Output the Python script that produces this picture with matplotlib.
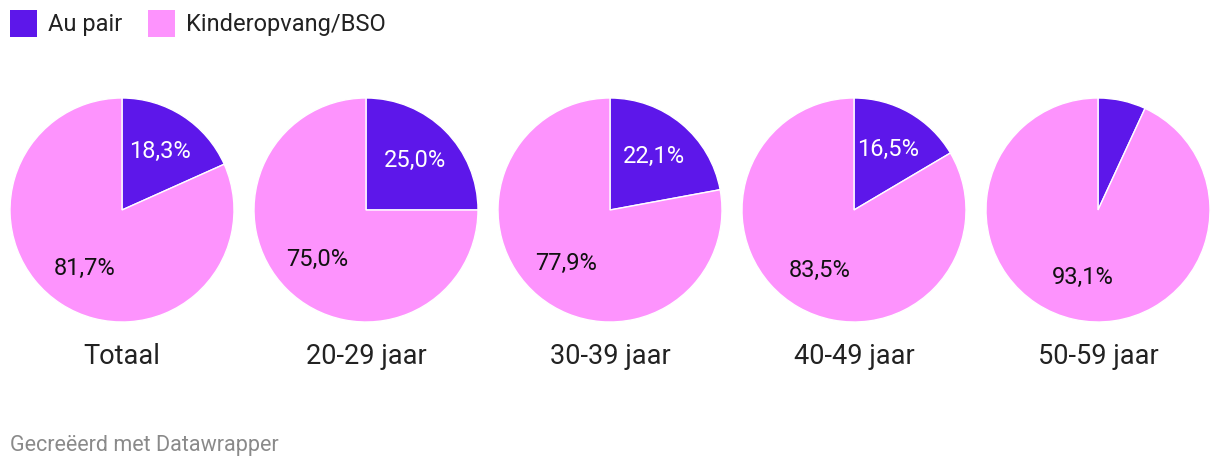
import matplotlib
matplotlib.use("Agg")
import matplotlib.pyplot as plt
from matplotlib.patches import Rectangle

plt.rcParams['font.family'] = ['Roboto', 'DejaVu Sans']

categories = ["Totaal", "20-29 jaar", "30-39 jaar", "40-49 jaar", "50-59 jaar"]
au_pair = [18.3, 25.0, 22.1, 16.5, 6.9]
kinderopvang = [81.7, 75.0, 77.9, 83.5, 93.1]
series_names = ["Au pair", "Kinderopvang/BSO"]
colors = ["#5D17EA", "#FD93FD"]

W, H = 1220, 470
fig = plt.figure(figsize=(W / 100, H / 100), dpi=100)

R = 112
cx0, dx, cy = 122, 244, 210

def fmt(p):
    return f"{p:.1f}".replace(".", ",") + "%"

for i, cat in enumerate(categories):
    cx = cx0 + dx * i
    ax = fig.add_axes([(cx - R) / W, (H - cy - R) / H, 2 * R / W, 2 * R / H])
    vals = [au_pair[i], kinderopvang[i]]
    wedges, texts, autotexts = ax.pie(
        vals, colors=colors, startangle=90, counterclock=False,
        autopct=fmt, pctdistance=0.62,
        wedgeprops=dict(edgecolor="white", linewidth=1),
        textprops=dict(fontsize=17),
    )
    autotexts[0].set_color("white")
    autotexts[1].set_color("#111111")
    for v, t in zip(vals, autotexts):
        if v < 10:
            t.set_visible(False)
    ax.set_xlim(-1, 1)
    ax.set_ylim(-1, 1)
    ax.set_aspect("equal")
    ax.axis("off")
    fig.text(cx / W, 1 - 357 / H, cat, ha="center", va="center",
             fontsize=19.5, color="#222222")

# Legend
lx = [10, 148]
for name, col, x in zip(series_names, colors, lx):
    fig.patches.append(Rectangle((x / W, 1 - 37 / H), 27 / W, 27 / H,
                                 transform=fig.transFigure, facecolor=col,
                                 edgecolor="none"))
    fig.text((x + 38) / W, 1 - 24 / H, name, ha="left", va="center",
             fontsize=17, color="#222222")

fig.text(10 / W, 1 - 445 / H, "Gecreëerd met Datawrapper", ha="left",
         va="center", fontsize=15.5, color="#8a8a8a")

fig.savefig("out.png", dpi=100, facecolor="white")
